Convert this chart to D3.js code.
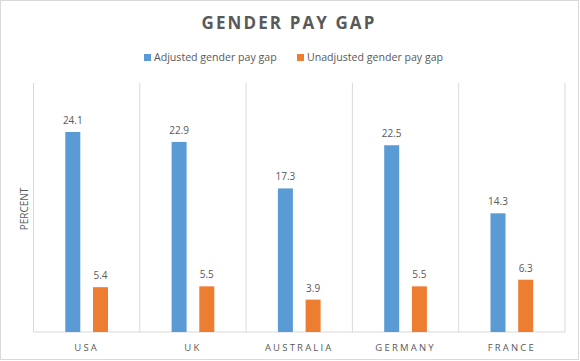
<!DOCTYPE html>
<html>
<head>
<meta charset="utf-8">
<script src="https://cdn.jsdelivr.net/npm/d3@7/dist/d3.min.js"></script>
<style>
  html, body { margin: 0; padding: 0; background: #fff; }
  svg text { font-family: "Open Sans", "Noto Sans", sans-serif; fill: #595959; }
</style>
</head>
<body>
<script>
const categories = ["USA", "UK", "AUSTRALIA", "GERMANY", "FRANCE"];
const seriesNames = ["Adjusted gender pay gap", "Unadjusted gender pay gap"];
const adjusted = [24.1, 22.9, 17.3, 22.5, 14.3];
const unadjusted = [5.4, 5.5, 3.9, 5.5, 6.3];
const yDomain = [0, 30];

const W = 580, H = 361;
const colors = ["#5b9bd5", "#ed7d31"];
const plot = { left: 33.5, right: 565, top: 83, bottom: 332 };

const svg = d3.select("body").append("svg").attr("width", W).attr("height", H);

// outer border
svg.append("rect").attr("x", 0.5).attr("y", 0.5).attr("width", W - 2).attr("height", H - 2)
  .attr("fill", "#fff").attr("stroke", "#d9d9d9");

// title
svg.append("text").attr("x", 289).attr("y", 29).attr("text-anchor", "middle")
  .style("font-size", "17px").style("font-weight", "bold").style("letter-spacing", "2.1px")
  .text("GENDER PAY GAP");

// legend
const legendItems = [{ x: 144, name: seriesNames[0], c: colors[0] }, { x: 297, name: seriesNames[1], c: colors[1] }];
legendItems.forEach(d => {
  svg.append("rect").attr("x", d.x).attr("y", 54).attr("width", 7).attr("height", 7).attr("fill", d.c);
  svg.append("text").attr("x", d.x + 10).attr("y", 61).style("font-size", "10.6px").text(d.name);
});

const x = d3.scaleBand().domain(categories).range([plot.left, plot.right]).paddingInner(0).paddingOuter(0);
const y = d3.scaleLinear().domain(yDomain).range([plot.bottom, plot.top]);

// vertical category gridlines
const bounds = categories.map(c => x(c)).concat([plot.right]);
svg.append("g").selectAll("line").data(bounds).join("line")
  .attr("x1", d => d).attr("x2", d => d).attr("y1", plot.top).attr("y2", plot.bottom)
  .attr("stroke", "#d9d9d9").attr("stroke-width", 1);

// baseline
svg.append("line").attr("x1", plot.left).attr("x2", plot.right).attr("y1", plot.bottom).attr("y2", plot.bottom)
  .attr("stroke", "#d9d9d9");

// bars
const barW = 15, gap = 12.7;
const series = [adjusted, unadjusted];
const bw = x.bandwidth();
series.forEach((vals, si) => {
  const g = svg.append("g");
  const off = bw / 2 - (barW * 2 + gap) / 2 + si * (barW + gap);
  g.selectAll("rect").data(categories).join("rect")
    .attr("x", (c) => x(c) + off)
    .attr("y", (c, i) => y(vals[i]))
    .attr("width", barW)
    .attr("height", (c, i) => y(0) - y(vals[i]))
    .attr("fill", colors[si]);
  g.selectAll("text").data(categories).join("text")
    .attr("x", (c) => x(c) + off + barW / 2)
    .attr("y", (c, i) => y(vals[i]) - 8)
    .attr("text-anchor", "middle")
    .style("font-size", "10px")
    .text((c, i) => vals[i].toFixed(1));
});

// category labels
svg.append("g").selectAll("text").data(categories).join("text")
  .attr("x", c => x(c) + bw / 2).attr("y", 351).attr("text-anchor", "middle")
  .style("font-size", "9.5px").style("letter-spacing", "2.2px")
  .text(c => c);

// y axis title
svg.append("text").attr("transform", "translate(27.5,209) rotate(-90)").attr("text-anchor", "middle")
  .style("font-size", "10px").text("PERCENT");
</script>
</body>
</html>
